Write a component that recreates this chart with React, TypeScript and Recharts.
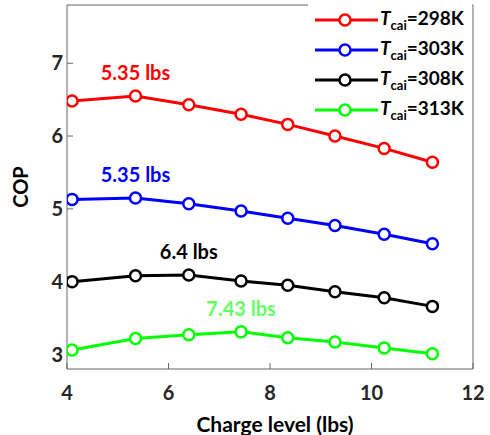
import { LineChart, Line, XAxis, YAxis, Legend } from 'recharts'

// charge level (lbs) at each test point
const charge = [4.1, 5.35, 6.4, 7.43, 8.35, 9.28, 10.25, 11.2]

// COP for each inlet air temperature
const cop298 = [6.48, 6.55, 6.43, 6.3, 6.16, 6.0, 5.83, 5.64]
const cop303 = [5.13, 5.15, 5.07, 4.97, 4.87, 4.77, 4.65, 4.52]
const cop308 = [4.0, 4.08, 4.09, 4.01, 3.95, 3.86, 3.78, 3.66]
const cop313 = [3.06, 3.22, 3.27, 3.31, 3.23, 3.17, 3.09, 3.01]

const temps = ['298K', '303K', '308K', '313K']
const colors = ['#ff0000', '#0000ff', '#000000', '#00ff00']
const labelColors = ['#ff0000', '#0000ff', '#000000', '#66ff66']
const peakIdx = [1, 1, 2, 3]
const peakLabels = ['5.35 lbs', '5.35 lbs', '6.4 lbs', '7.43 lbs']

const xTicks = [4, 6, 8, 10, 12]
const yTicks = [3, 4, 5, 6, 7]

const keys = ['t298', 't303', 't308', 't313']

const data = charge.map((c, i) => ({
  charge: c,
  t298: cop298[i],
  t303: cop303[i],
  t308: cop308[i],
  t313: cop313[i],
}))

const font = 'Lato, "Open Sans", sans-serif'
const axisColor = '#666'
const tickStyle = { fontFamily: font, fontSize: 20, fontWeight: 700, fill: '#262626' }

const renderLegend = () => (
  <div style={{ fontFamily: font, fontWeight: 700, fontSize: 19, color: '#000', paddingTop: 5, background: '#fff', height: 117 }}>
    {temps.map((t, i) => (
      <div key={t} style={{ display: 'flex', alignItems: 'center', height: 30, lineHeight: 1 }}>
        <svg width={70} height={16}>
          <line x1={7} x2={70} y1={8} y2={8} stroke={colors[i]} strokeWidth={3} />
          <circle cx={37} cy={8} r={5.5} fill="#fff" stroke={colors[i]} strokeWidth={2.5} />
        </svg>
        <span style={{ marginLeft: 2 }}>
          <i>T</i>
          <sub style={{ fontSize: 13 }}>cai</sub>={t}
        </span>
      </div>
    ))}
  </div>
)

const makeLabel = (s: number) => (props: any) => {
  const { x, y, index } = props
  if (index !== peakIdx[s]) return null
  return (
    <text
      key={`lbl-${s}`}
      x={x}
      y={y - 24}
      textAnchor="middle"
      dominantBaseline="central"
      fill={labelColors[s]}
      style={{ fontFamily: font, fontSize: 20, fontWeight: 700 }}
    >
      {peakLabels[s]}
    </text>
  )
}

export default function App() {
  return (
    <div style={{ position: 'absolute', left: 0, top: 0, width: 490, height: 435, background: '#fff' }}>
      <LineChart width={490} height={435} data={data} margin={{ top: 4, right: 16, bottom: 0, left: 0 }}>
        <XAxis
          dataKey="charge"
          type="number"
          domain={[4, 12]}
          ticks={xTicks}
          allowDataOverflow
          height={66}
          stroke={axisColor}
          tickSize={-6}
          tickMargin={23}
          tick={tickStyle}
          label={{ value: 'Charge level (lbs)', position: 'insideBottom', offset: 3, dx: 5, style: { fontFamily: font, fontSize: 21, fontWeight: 700, fill: '#000' } }}
        />
        <XAxis
          xAxisId="top"
          orientation="top"
          dataKey="charge"
          type="number"
          domain={[4, 12]}
          ticks={xTicks}
          allowDataOverflow
          height={1}
          stroke={axisColor}
          tickSize={-6}
          tick={false}
        />
        <YAxis
          type="number"
          domain={[2.8, 7.8]}
          ticks={yTicks}
          allowDataOverflow
          width={67}
          stroke={axisColor}
          tickSize={-6}
          tickMargin={10}
          tick={tickStyle}
          label={{ value: 'COP', angle: -90, position: 'insideLeft', offset: 21, style: { fontFamily: font, fontSize: 20, fontWeight: 700, fill: '#000', textAnchor: 'middle' } }}
        />
        <YAxis
          yAxisId="right"
          orientation="right"
          type="number"
          domain={[2.8, 7.8]}
          ticks={yTicks}
          allowDataOverflow
          width={1}
          stroke={axisColor}
          tickSize={-6}
          tick={false}
        />
        <Legend
          layout="vertical"
          align="center"
          verticalAlign="middle"
          content={renderLegend}
          wrapperStyle={{ top: 0, left: 308, width: 164, height: 122 }}
        />
        {keys.map((k, s) => (
          <Line
            key={k}
            dataKey={k}
            xAxisId={s === 0 ? 'top' : 0}
            yAxisId={s === 0 ? 'right' : 0}
            stroke={colors[s]}
            strokeWidth={3}
            dot={{ r: 5.5, strokeWidth: 2.5, fill: '#fff', stroke: colors[s] }}
            activeDot={false}
            isAnimationActive={false}
            label={makeLabel(s)}
            legendType="none"
          />
        ))}
      </LineChart>
    </div>
  )
}
